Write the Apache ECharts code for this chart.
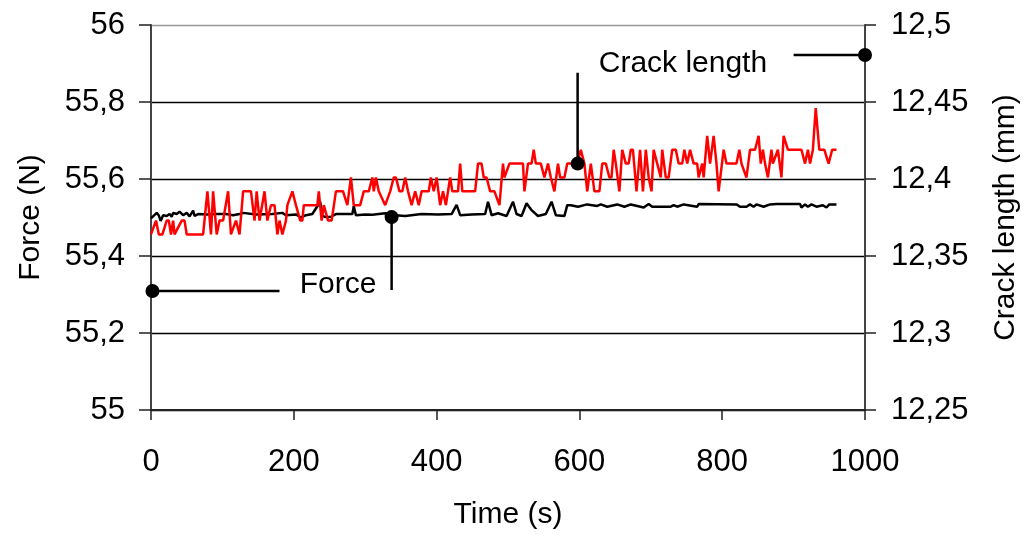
<!DOCTYPE html>
<html>
<head>
<meta charset="utf-8">
<script src="https://cdn.jsdelivr.net/npm/echarts@6/dist/echarts.min.js"></script>
<style>html,body{margin:0;padding:0;background:#fff;overflow:hidden}#c{width:1029px;height:535px}</style>
</head>
<body>
<div id="c"></div>
<script>
// ---- data ----
const xTicks = [0, 200, 400, 600, 800, 1000];
const forceTicks = [55, 55.2, 55.4, 55.6, 55.8, 56];
const crackTicks = [12.25, 12.3, 12.35, 12.4, 12.45, 12.5];

const forceTime = [0,4,8,11,13.5,17,22,26,29,31,36,40,45,50,54,59,61,66,78,92,105,115,124,129,147,170,184,189,203,210,217,226,237,240,245,252,259,282,284,287,300,310,328,342,356,379,402,421,428,433,449,468,472,477,486,488,498,507,512,519,526,533,542,553,561,567,579,583,588,598,611,625,630,639,653,663,672,681,690,697,702,728,732,737,746,765,767,820,825,834,839,844,848,858,867,876,909,911,916,920,925,932,941,946,950,960];
const forceValue = [55.498,55.505,55.512,55.505,55.491,55.506,55.504,55.509,55.502,55.512,55.509,55.515,55.506,55.512,55.503,55.518,55.504,55.509,55.508,55.509,55.509,55.506,55.509,55.512,55.508,55.509,55.512,55.506,55.508,55.500,55.506,55.509,55.541,55.504,55.501,55.502,55.509,55.509,55.530,55.506,55.508,55.507,55.511,55.506,55.504,55.509,55.508,55.509,55.533,55.506,55.508,55.509,55.541,55.506,55.511,55.509,55.504,55.541,55.509,55.504,55.537,55.519,55.504,55.509,55.541,55.506,55.504,55.532,55.532,55.528,55.534,55.530,55.534,55.528,55.534,55.528,55.534,55.530,55.526,55.535,55.528,55.528,55.532,55.528,55.534,55.528,55.535,55.534,55.528,55.528,55.534,55.528,55.534,55.528,55.534,55.535,55.535,55.526,55.534,55.528,55.534,55.528,55.532,55.526,55.534,55.534];

const crackTime = [0,7,11,16,22,25,28,31,33,43,47,50,73,79,84,87,92,96,101,108,112,119,124,129,140,145,148,152,159,163,168,173,177,180,184,189,191,198,203,209,212,214,233,235,239,242,248,253,259,269,275,280,284,293,298,305,310,312,315,319,328,335,340,343,348,352,356,360,365,370,375,379,389,392,396,400,405,409,413,419,422,430,433,436,454,458,463,466,470,475,481,488,493,495,502,521,523,528,533,536,539,546,551,556,560,565,570,573,579,583,591,597,602,607,611,616,621,628,632,637,642,645,648,651,656,660,665,669,672,675,680,685,689,693,697,701,704,709,714,716,721,725,730,735,739,744,747,751,755,760,765,767,772,774,779,783,788,792,795,802,806,820,824,827,834,839,846,851,854,857,860,864,869,871,878,883,886,892,911,916,920,923,927,931,936,943,949,954,960];
const crackValue = [12.364,12.373,12.364,12.364,12.373,12.373,12.364,12.373,12.364,12.373,12.373,12.364,12.364,12.392,12.364,12.392,12.364,12.373,12.373,12.392,12.364,12.373,12.364,12.392,12.392,12.373,12.392,12.373,12.392,12.373,12.383,12.383,12.364,12.373,12.364,12.373,12.383,12.392,12.383,12.373,12.373,12.383,12.383,12.392,12.373,12.383,12.373,12.373,12.392,12.392,12.383,12.401,12.383,12.383,12.392,12.392,12.401,12.392,12.401,12.392,12.383,12.392,12.401,12.401,12.392,12.392,12.401,12.392,12.383,12.392,12.383,12.392,12.392,12.401,12.392,12.401,12.383,12.392,12.383,12.401,12.392,12.392,12.410,12.392,12.392,12.410,12.410,12.401,12.401,12.392,12.392,12.383,12.410,12.401,12.410,12.410,12.392,12.410,12.410,12.419,12.410,12.410,12.401,12.410,12.401,12.392,12.410,12.401,12.401,12.410,12.410,12.410,12.419,12.410,12.392,12.410,12.392,12.392,12.410,12.410,12.401,12.401,12.419,12.410,12.392,12.419,12.410,12.410,12.419,12.419,12.392,12.419,12.392,12.419,12.401,12.392,12.419,12.410,12.401,12.419,12.401,12.401,12.419,12.419,12.410,12.410,12.419,12.410,12.419,12.410,12.410,12.401,12.410,12.401,12.428,12.410,12.428,12.410,12.392,12.419,12.410,12.410,12.419,12.410,12.401,12.419,12.419,12.428,12.410,12.419,12.410,12.401,12.419,12.410,12.419,12.401,12.428,12.419,12.419,12.410,12.419,12.410,12.419,12.446,12.419,12.419,12.410,12.419,12.419];

// annotation callouts (data coordinates)
const forceCalloutH = [[2, 55.309], [180, 55.309]];
const forceCalloutV = [[337, 55.501], [337, 55.312]];
const forceDots = [[2, 55.309], [337, 55.501]];
const forceLabel = [[262, 55.325, 'Force']];
const crackCalloutV = [[597.5, 12.469], [597.5, 12.41]];
const crackCalloutH = [[900, 12.4805], [1000, 12.4805]];
const crackDots = [[597.5, 12.41], [1000, 12.4805]];
const crackLabel = [[745, 12.475, 'Crack length']];

const zip = (a, b) => a.map((v, i) => [v, b[i]]);
const fmt = v => String(+v.toFixed(3)).replace('.', ',');
const FONT = 'Liberation Sans, Arial, sans-serif';
const tickTxt = {fontFamily: FONT, fontSize: 31, color: '#000'};
const nameTxt = {fontFamily: FONT, fontSize: 30, color: '#000'};
const annTxt = {fontFamily: FONT, fontSize: 30, color: '#000', textBorderWidth: 0};

const chart = echarts.init(document.getElementById('c'), null, {renderer: 'canvas', width: 1029, height: 535});
chart.setOption({
  animation: false,
  backgroundColor: '#fff',
  grid: {left: 151, right: 160, top: 25, bottom: 125, containLabel: false},
  xAxis: {
    type: 'value', min: 0, max: 1000, interval: 200,
    name: 'Time (s)', nameLocation: 'middle', nameGap: 90, nameTextStyle: nameTxt,
    axisLine: {show: true, onZero: false, lineStyle: {color: '#222', width: 2}},
    axisTick: {show: true, inside: false, length: 10, lineStyle: {color: '#222', width: 1.5}},
    axisLabel: Object.assign({margin: 37, formatter: v => String(v)}, tickTxt),
    splitLine: {show: false}
  },
  yAxis: [{
    type: 'value', min: 55, max: 56, interval: 0.2, position: 'left',
    name: 'Force (N)', nameLocation: 'middle', nameGap: 105, nameTextStyle: nameTxt,
    axisLine: {show: true, lineStyle: {color: '#444', width: 2}},
    axisTick: {show: true, inside: false, length: 12, lineStyle: {color: '#222', width: 1.5}},
    axisLabel: Object.assign({margin: 26, formatter: fmt}, tickTxt),
    splitLine: {show: true, lineStyle: {color: ['#000', '#000', '#000', '#000', '#000', '#999'], width: 1.3}}
  }, {
    type: 'value', min: 12.25, max: 12.5, interval: 0.05, position: 'right',
    name: 'Crack length (mm)', nameLocation: 'middle', nameGap: 126, nameTextStyle: nameTxt,
    axisLine: {show: true, lineStyle: {color: '#444', width: 2}},
    axisTick: {show: true, inside: false, length: 11, lineStyle: {color: '#222', width: 1.5}},
    axisLabel: Object.assign({margin: 26, formatter: fmt}, tickTxt),
    splitLine: {show: false}
  }],
  series: [
    {name: 'Force', type: 'line', yAxisIndex: 0, data: zip(forceTime, forceValue), showSymbol: false, symbol: 'none',
     lineStyle: {color: '#000', width: 2.5}, z: 3},
    {name: 'Crack length', type: 'line', yAxisIndex: 1, data: zip(crackTime, crackValue), showSymbol: false, symbol: 'none',
     lineStyle: {color: '#ff0000', width: 2.5}, z: 4},
    {type: 'line', yAxisIndex: 0, data: forceCalloutH, symbol: 'none', lineStyle: {color: '#000', width: 2.5}, z: 5},
    {type: 'line', yAxisIndex: 0, data: forceCalloutV, symbol: 'none', lineStyle: {color: '#000', width: 2.5}, z: 5},
    {type: 'line', yAxisIndex: 1, data: crackCalloutV, symbol: 'none', lineStyle: {color: '#000', width: 2.5}, z: 5},
    {type: 'line', yAxisIndex: 1, data: crackCalloutH, symbol: 'none', lineStyle: {color: '#000', width: 2.5}, z: 5},
    {type: 'scatter', yAxisIndex: 0, data: forceDots, symbolSize: 14, itemStyle: {color: '#000', opacity: 1}, z: 6},
    {type: 'scatter', yAxisIndex: 1, data: crackDots, symbolSize: 14, itemStyle: {color: '#000', opacity: 1}, z: 6},
    {type: 'scatter', yAxisIndex: 0, data: forceLabel, symbolSize: 0, itemStyle: {color: '#000', opacity: 1}, z: 6,
     label: Object.assign({show: true, position: [0, 0], align: 'center', verticalAlign: 'middle', formatter: p => p.data[2]}, annTxt)},
    {type: 'scatter', yAxisIndex: 1, data: crackLabel, symbolSize: 0, itemStyle: {color: '#000', opacity: 1}, z: 6,
     label: Object.assign({show: true, position: [0, 0], align: 'center', verticalAlign: 'middle', formatter: p => p.data[2]}, annTxt)}
  ]
});
</script>
</body>
</html>
